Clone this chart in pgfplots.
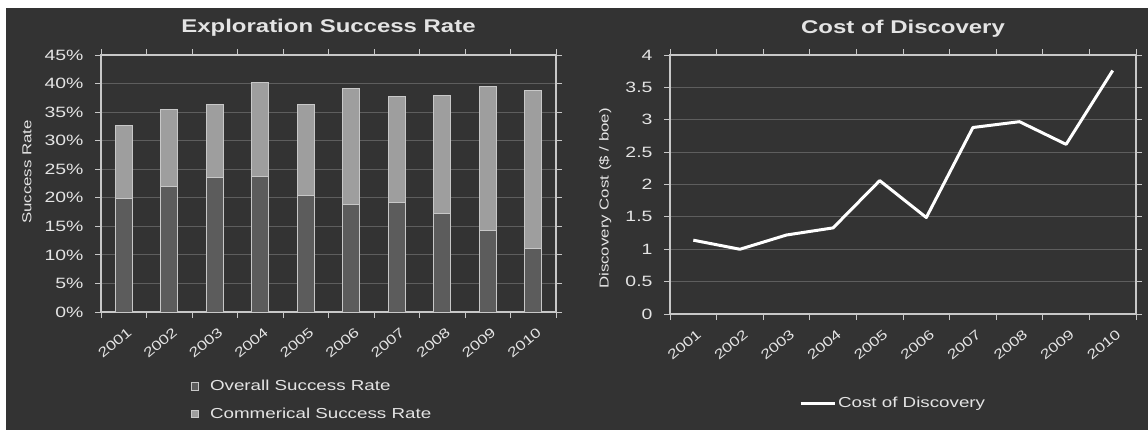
\documentclass[border=0pt]{standalone}
\usepackage{fontspec}
\setmainfont[FakeStretch=1.3]{Liberation Sans}
\usepackage{pgfplots}
\pgfplotsset{compat=1.18}
\definecolor{bg}{HTML}{333333}
\definecolor{axisc}{HTML}{C8C8C8}
\definecolor{gridc}{HTML}{5E5E5E}
\definecolor{txt}{HTML}{E4E4E4}
\definecolor{darkbar}{HTML}{5C5C5C}
\definecolor{lightbar}{HTML}{9E9E9E}
\pgfplotsset{
 mystyle/.style={
  scale only axis,
  /pgf/number format/assume math mode=true,
  axis line style={draw=axisc, line width=1.2bp},
  grid style={draw=gridc, line width=0.8bp},
  ymajorgrids,
  tick align=outside,
  major tick length=6bp,
  minor tick length=6bp,
  every tick/.style={draw=axisc, line width=1bp},
  ticklabel style={font=\fontsize{15}{17}\selectfont, text=txt},
  y tick label style={xshift=-8bp},
  xmin=-0.5, xmax=9.5,
  xtick={0,...,9},
  xticklabels={2001,2002,2003,2004,2005,2006,2007,2008,2009,2010},
  x tick label style={font=\fontsize{13.5}{15}\selectfont, xshift=3bp, yshift=-7bp, rotate=40, anchor=north east, inner sep=1bp},
  major x tick style={draw=none},
  minor xtick={-0.5,0.5,1.5,2.5,3.5,4.5,5.5,6.5,7.5,8.5,9.5},
  every axis y label/.style={font=\fontsize{13}{15}\selectfont, text=txt, rotate=90, anchor=center},
  legend style={draw=none, fill=none, text=txt, font=\fontsize{14.5}{16}\selectfont},
  legend cell align=left,
 }
}
\begin{document}
\begin{tikzpicture}[x=1bp,y=1bp]
\fill[white] (0,0) rectangle (1148,430);
\fill[bg] (6,0) rectangle (1148,422);
\useasboundingbox (0,0) rectangle (1148,430);

\begin{axis}[mystyle,
  at={(101bp,118bp)}, anchor=south west,
  width=455bp, height=257bp,
  ymin=0, ymax=45,
  ytick={0,5,...,45},
  yticklabel={\pgfmathprintnumber{\tick}\%},
  ybar stacked, bar width=17bp,
  title={Exploration Success Rate},
  title style={font=\bfseries\fontsize{18.5}{20}\selectfont, text=txt, at={(0.5,1)}, anchor=base, yshift=17bp},
  ylabel={Success Rate},
  ylabel style={at={(axis description cs:-0.163,0.545)}},
  legend style={at={(0.19,-0.25)}, anchor=north west, row sep=12bp},
  legend image code/.code={\draw[#1, line width=0.8bp] (0bp,-3.5bp) rectangle (7bp,4bp); \path[draw=none, fill=none] (0bp,0bp) -- (17bp,0bp);},
]
\addplot[fill=darkbar, draw=axisc, line width=1bp] coordinates {
(0,19.8) (1,21.9) (2,23.5) (3,23.8) (4,20.4) (5,18.8) (6,19.2) (7,17.2) (8,14.2) (9,11.2)};
\addplot[fill=lightbar, draw=axisc, line width=1bp] coordinates {
(0,12.9) (1,13.5) (2,12.9) (3,16.4) (4,16.0) (5,20.3) (6,18.5) (7,20.7) (8,25.3) (9,27.5)};
\legend{Overall Success Rate, Commerical Success Rate}
\end{axis}

\begin{axis}[mystyle,
  at={(670bp,116bp)}, anchor=south west,
  width=466bp, height=259bp,
  ymin=0, ymax=4,
  ytick={0,0.5,1,1.5,2,2.5,3,3.5,4},
  yticklabels={0,0.5,1,1.5,2,2.5,3,3.5,4},
  title={Cost of Discovery},
  title style={font=\bfseries\fontsize{18.5}{20}\selectfont, text=txt, at={(0.5,1)}, anchor=base, yshift=16bp},
  ylabel={Discovery Cost (\$ / boe)},
  ylabel style={at={(axis description cs:-0.139,0.446)}},
  legend style={at={(0.27,-0.344)}, anchor=west},
  legend image code/.code={\draw[#1] (0bp,0bp) -- (34bp,0bp);},
]
\addplot[white, line width=3bp, line join=round] coordinates {
(0,1.14) (1,1.00) (2,1.22) (3,1.33) (4,2.06) (5,1.49) (6,2.88) (7,2.97) (8,2.62) (9,3.76)};
\legend{Cost of Discovery}
\end{axis}
\end{tikzpicture}
\end{document}
